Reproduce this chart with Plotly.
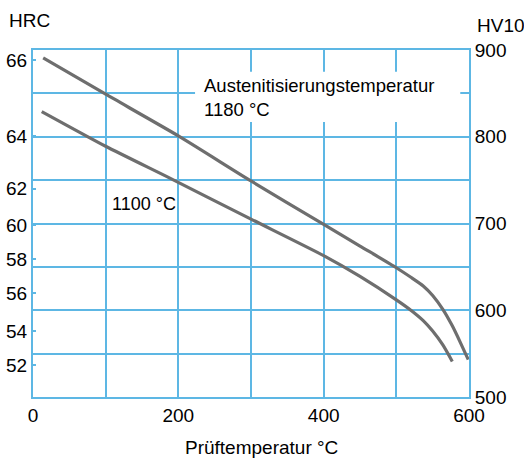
import plotly.graph_objects as go

# Data (temperature in °C, hardness in HV10)
temp_1180 = [14, 100, 200, 300, 400, 450, 500, 520, 537, 550, 564, 577, 588, 599]
hv_1180 = [891, 849, 801, 749, 699, 674, 649, 638, 628, 617, 601, 582, 563, 543]

temp_1100 = [12, 100, 189, 300, 400, 450, 500, 520, 537, 550, 564, 577]
hv_1100 = [829, 789, 752, 705, 663, 639, 612, 600, 588, 576, 560, 541]

# HRC scale shown on the left, positioned against the HV scale
hrc_labels = ["66", "64", "62", "60", "58", "56", "54", "52"]
hrc_pos_hv = [888, 801, 740, 698, 659, 620, 576, 537]

x_ticks = [0, 200, 400, 600]
hv_ticks = [500, 600, 700, 800, 900]

GRID = "#5DB7E4"
CURVE = "#6E6E6E"
FONT = "Liberation Sans, Arial, Helvetica, sans-serif"

W, H = 524, 462
ml, mr, mt, mb = 33, 55, 50, 65
pw, ph = W - ml - mr, H - mt - mb


def px_to_paper(px, py):
    return (px - ml) / pw, 1 - (py - mt) / ph


fig = go.Figure()
for tx, hv in ((temp_1180, hv_1180), (temp_1100, hv_1100)):
    fig.add_trace(go.Scatter(x=tx, y=hv, mode="lines",
                             line=dict(color=CURVE, width=3.2, shape="spline", smoothing=0.6),
                             showlegend=False, hoverinfo="skip", yaxis="y2"))

ann = []
for text, px, py, anchor, size in (("HRC", 7, 20, "left", 19),
                                   ("Prüftemperatur °C", 261, 447, "center", 19),
                                   ("HV10", 475, 25, "left", 19)):
    ax_, ay_ = px_to_paper(px, py)
    ann.append(dict(text=text, x=ax_, y=ay_, xref="paper", yref="paper", showarrow=False,
                    xanchor=anchor, yanchor="middle", font=dict(size=size)))

ann += [
    dict(text="Austenitisierungstemperatur<br>1180 °C", x=232, y=874, xref="x", yref="y",
         xanchor="left", yanchor="top", align="left", showarrow=False,
         font=dict(size=18.5)),
    dict(text="1100 °C", x=106, y=722.5, xref="x", yref="y",
         xanchor="left", yanchor="middle", align="left", showarrow=False,
         font=dict(size=18)),
]

fig.update_layout(
    width=W, height=H,
    margin=dict(l=ml, r=mr, t=mt, b=mb, autoexpand=False),
    paper_bgcolor="white", plot_bgcolor="white",
    font=dict(family=FONT, size=19, color="black"),
    xaxis=dict(range=[0, 600], tickvals=x_ticks, ticks="", automargin=False,
               showgrid=False,
               minor=dict(dtick=100, tick0=0, showgrid=True, gridcolor=GRID, gridwidth=2),
               showline=True, linecolor=GRID, linewidth=2, mirror=True,
               zeroline=False, fixedrange=True),
    yaxis=dict(range=[500, 900], tickvals=hrc_pos_hv, ticktext=hrc_labels, automargin=False,
               ticks="inside", ticklen=3, tickcolor=GRID, tickwidth=2,
               showgrid=False, showline=True, linecolor=GRID, linewidth=2,
               zeroline=False, fixedrange=True),
    yaxis2=dict(range=[500, 900], tickvals=hv_ticks, overlaying="y", side="right",
                automargin=False, showgrid=False,
                minor=dict(dtick=50, tick0=500, showgrid=True, gridcolor=GRID, gridwidth=2),
                ticks="", showline=True, linecolor=GRID, linewidth=2,
                zeroline=False, fixedrange=True),
    shapes=[
        dict(type="rect", xref="x", yref="y", x0=223, x1=588, y0=817, y1=875,
             fillcolor="white", line=dict(width=0), layer="above"),
        dict(type="rect", xref="x", yref="y", x0=102, x1=195, y0=712, y1=733,
             fillcolor="white", line=dict(width=0), layer="above"),
    ],
    annotations=ann,
)

fig.write_html("out.html", config={"displayModeBar": False},
               post_script="document.body.style.margin='0';document.body.style.overflow='hidden';")
